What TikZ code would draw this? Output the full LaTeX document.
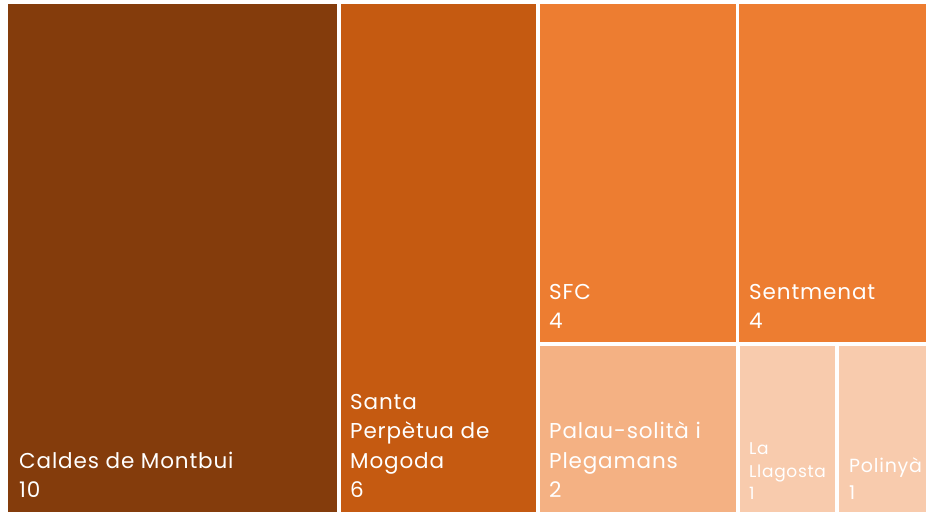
\documentclass[tikz,border=0pt]{standalone}
\usepackage{fontspec}
\setmainfont{Poppins}[LetterSpace=4]
\definecolor{cA}{HTML}{843C0C}
\definecolor{cB}{HTML}{C55A11}
\definecolor{cC}{HTML}{ED7D31}
\definecolor{cD}{HTML}{F4B183}
\definecolor{cE}{HTML}{F8CBAD}
\begin{document}
\begin{tikzpicture}[x=1pt,y=-1pt,
  tile/.style={anchor=north west,inner sep=0pt,outer sep=0pt,draw=none},
  lbl/.style={anchor=south west,inner sep=0pt,text=white,align=left,
    font=\fontsize{21.5}{29.5}\selectfont},
  slbl/.style={anchor=south west,inner sep=0pt,text=white,align=left,
    font=\fontsize{17}{22.5}\selectfont},
  plbl/.style={anchor=south west,inner sep=0pt,text=white,align=left,
    font=\fontsize{19}{27}\selectfont}]
\useasboundingbox[fill=white] (0,0) rectangle (926,512);
\node[tile,fill=cA,minimum width=329pt,minimum height=508pt] (caldes) at (8,4) {};
\node[tile,fill=cB,minimum width=195pt,minimum height=508pt] (santa) at (341,4) {};
\node[tile,fill=cC,minimum width=196pt,minimum height=338pt] (sfc) at (540,4) {};
\node[tile,fill=cC,minimum width=187pt,minimum height=338pt] (sent) at (739,4) {};
\node[tile,fill=cD,minimum width=196pt,minimum height=166pt] (palau) at (540,346) {};
\node[tile,fill=cE,minimum width=95pt,minimum height=166pt] (llag) at (740,346) {};
\node[tile,fill=cE,minimum width=87pt,minimum height=166pt] (poli) at (839,346) {};

\node[lbl] (tcaldes) at ([shift={(11,-14)}]caldes.south west) {Caldes de Montbui\\10};
\node[lbl] (tsanta) at ([shift={(9,-14)}]santa.south west) {Santa\\Perpètua de\\Mogoda\\6};
\node[lbl] (tsfc) at ([shift={(9,-13)}]sfc.south west) {SFC\\4};
\node[lbl] (tsent) at ([shift={(10,-13)}]sent.south west) {Sentmenat\\4};
\node[lbl] (tpalau) at ([shift={(9,-14)}]palau.south west) {Palau-solità i\\Plegamans\\2};
\node[slbl] (tllag) at ([shift={(9,-12)}]llag.south west) {La\\Llagosta\\1};
\node[plbl] (tpoli) at ([shift={(10,-12)}]poli.south west) {Polinyà\\1};
\end{tikzpicture}
\end{document}
